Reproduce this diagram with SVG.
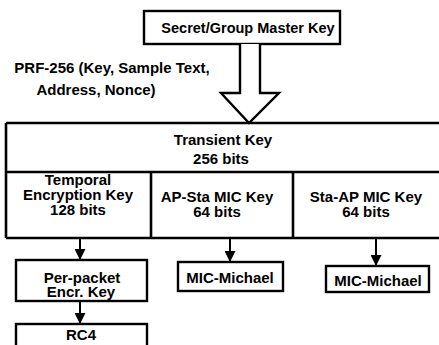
<svg xmlns="http://www.w3.org/2000/svg" width="439" height="345" viewBox="0 0 439 345">
<defs>
<style>
.box{fill:#fff;stroke:#000;stroke-width:2.4}
.ln{fill:none;stroke:#000;stroke-width:2.6}
.t{font-family:"Liberation Sans",Arial,sans-serif;font-weight:bold;fill:#000;text-anchor:middle;font-size:15px}
.c{stroke:#000;stroke-width:2;fill:none}
</style>
<marker id="ah" viewBox="0 0 11 11" refX="11" refY="5.5" markerWidth="11" markerHeight="11" markerUnits="userSpaceOnUse" orient="auto">
<path d="M0,0 L11,5.5 L0,11 Z" fill="#000"/>
</marker>
</defs>
<rect width="439" height="345" fill="#fff"/>
<g id="master">
<rect class="box" x="144" y="11" width="196" height="33"/>
<text class="t" x="248" y="33" style="font-size:14.5px">Secret/Group Master Key</text>
</g>
<g id="prf-label">
<text class="t" x="112" y="73">PRF-256 (Key, Sample Text,</text>
<text class="t" x="96" y="95">Address, Nonce)</text>
</g>
<g id="transient">
<path class="ln" d="M6,123 H440 M6,172 H440 M6,238 H440 M6,123 V238"/>
<text class="t" x="223" y="145">Transient Key</text>
<text class="t" x="221" y="164">256 bits</text>
</g>
<g id="tek">
<path class="ln" d="M151,172 V238"/>
<text class="t" x="78" y="185">Temporal</text>
<text class="t" x="78" y="200">Encryption Key</text>
<text class="t" x="78" y="215">128 bits</text>
</g>
<g id="apsta">
<path class="ln" d="M293,172 V238"/>
<text class="t" x="217" y="202">AP-Sta MIC Key</text>
<text class="t" x="217" y="217">64 bits</text>
</g>
<g id="staap">
<text class="t" x="366" y="202">Sta-AP MIC Key</text>
<text class="t" x="366" y="217">64 bits</text>
</g>
<g id="perpacket">
<rect class="box" x="16" y="260" width="131" height="41"/>
<text class="t" x="82" y="283">Per-packet</text>
<text class="t" x="81" y="297">Encr. Key</text>
</g>
<g id="rc4">
<rect class="box" x="16" y="324" width="131" height="30"/>
<text class="t" x="81" y="340">RC4</text>
</g>
<g id="mic1">
<rect class="box" x="178" y="262" width="105" height="29"/>
<text class="t" x="230" y="283">MIC-Michael</text>
</g>
<g id="mic2">
<rect class="box" x="326" y="266" width="103" height="26"/>
<text class="t" x="378" y="286">MIC-Michael</text>
</g>
<g id="connectors">
<path class="box" d="M240,44 V93 H221 L249,123 L279,93 H260 V44"/>
<line class="c" x1="80" y1="238" x2="80" y2="260" marker-end="url(#ah)"/>
<line class="c" x1="80" y1="301" x2="80" y2="324" marker-end="url(#ah)"/>
<line class="c" x1="230" y1="238" x2="230" y2="262" marker-end="url(#ah)"/>
<line class="c" x1="376" y1="238" x2="376" y2="266" marker-end="url(#ah)"/>
</g>
</svg>
